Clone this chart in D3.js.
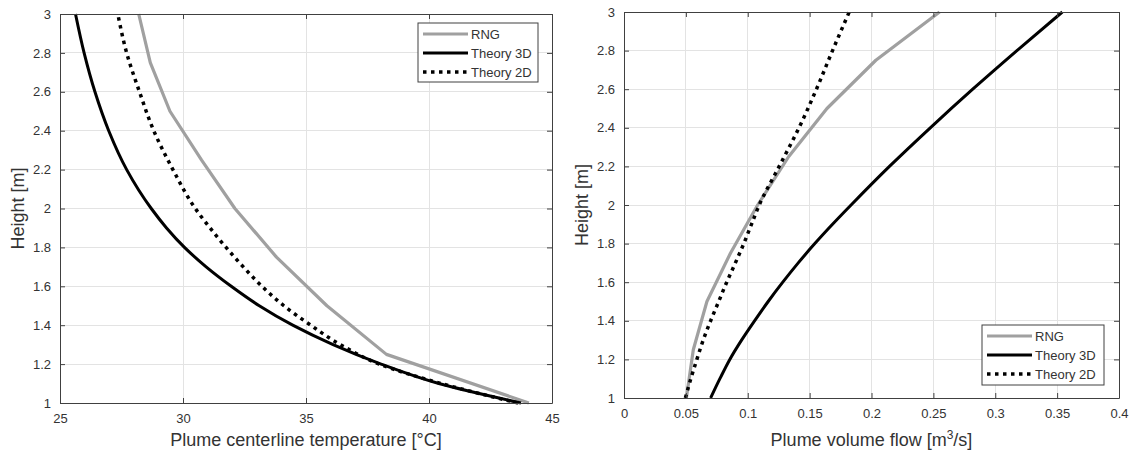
<!DOCTYPE html>
<html>
<head>
<meta charset="utf-8">
<script src="https://cdn.jsdelivr.net/npm/d3@7"></script>
<style>
  body { margin: 0; background: #ffffff; }
  svg { display: block; font-family: "Liberation Sans", Arial, Helvetica, sans-serif; }
</style>
</head>
<body>
<svg id="chart" width="1132" height="457"></svg>
<script>
// ---------- data ----------
const seriesNames = ["RNG", "Theory 3D", "Theory 2D"];

const rngHeights = [1, 1.25, 1.5, 1.75, 2, 2.25, 2.5, 2.75, 3];
const rngTemp    = [44.06, 38.27, 35.85, 33.8, 32.11, 30.75, 29.47, 28.67, 28.2];
const rngFlow    = [0.0504, 0.056, 0.067, 0.086, 0.108, 0.133, 0.164, 0.2035, 0.255];

const theoryHeights = [1.0, 1.1, 1.2, 1.3, 1.4, 1.5, 1.6, 1.7, 1.8, 1.9, 2.0, 2.2, 2.4, 2.6, 2.8, 3.0];
const temp3D = [43.74, 40.4, 38.05, 36.1, 34.46, 33.1, 31.96, 30.94, 30.06, 29.33, 28.71, 27.71, 26.98, 26.42, 25.98, 25.63];
const temp2D = [43.62, 40.5, 37.98, 36.4, 35.19, 34.1, 33.21, 32.45, 31.75, 31.1, 30.5, 29.59, 28.81, 28.23, 27.71, 27.35];
const flow3D = [0.070, 0.0775, 0.0855, 0.095, 0.1055, 0.1165, 0.1283, 0.1408, 0.1542, 0.1685, 0.1835, 0.2145, 0.2475, 0.2818, 0.3175, 0.3542];
const flow2D = [0.0496, 0.054, 0.0589, 0.064, 0.070, 0.0765, 0.083, 0.090, 0.0968, 0.103, 0.1093, 0.1254, 0.1414, 0.1555, 0.1685, 0.182];

const heightTicks = [1, 1.2, 1.4, 1.6, 1.8, 2, 2.2, 2.4, 2.6, 2.8, 3];
const tempTicks = [25, 30, 35, 40, 45];
const flowTicks = [0, 0.05, 0.1, 0.15, 0.2, 0.25, 0.3, 0.35, 0.4];

// ---------- styles ----------
const styles = {
  "RNG":       { color: "#a0a0a0", width: 3.2, dash: null, smooth: false },
  "Theory 3D": { color: "#000000", width: 3, dash: null, smooth: true },
  "Theory 2D": { color: "#000000", width: 3.5, dash: "3.5,4.5", smooth: true }
};

const svg = d3.select("#chart");
const axisColor = "#404040";
const gridColor = "#e3e3e3";
const textColor = "#333333";

function panel(opts) {
  const { left, right, top, bottom, xDomain, xTicks, xFmt, series, xLabel, legendPos } = opts;
  const x = d3.scaleLinear().domain(xDomain).range([left, right]);
  const y = d3.scaleLinear().domain([1, 3]).range([bottom, top]);
  const g = svg.append("g");

  // grid
  g.append("g").selectAll("line").data(xTicks).join("line")
    .attr("x1", d => x(d)).attr("x2", d => x(d))
    .attr("y1", top).attr("y2", bottom)
    .attr("stroke", gridColor).attr("stroke-width", 1).attr("shape-rendering", "crispEdges");
  g.append("g").selectAll("line").data(heightTicks).join("line")
    .attr("y1", d => y(d)).attr("y2", d => y(d))
    .attr("x1", left).attr("x2", right)
    .attr("stroke", gridColor).attr("stroke-width", 1).attr("shape-rendering", "crispEdges");

  // series
  const clipId = "clip" + Math.round(left);
  svg.append("clipPath").attr("id", clipId).append("rect")
    .attr("x", left).attr("y", top - 2).attr("width", right - left).attr("height", bottom - top + 4);
  series.forEach(s => {
    const st = styles[s.name];
    const pts = s.xs.map((v, i) => [v, s.ys[i]]);
    const lineGen = d3.line().x(d => x(d[0])).y(d => y(d[1]))
      .curve(st.smooth ? d3.curveMonotoneY : d3.curveLinear);
    g.append("path").datum(pts)
      .attr("d", lineGen)
      .attr("fill", "none")
      .attr("stroke", st.color)
      .attr("stroke-width", st.width)
      .attr("stroke-linejoin", "round")
      .attr("stroke-dasharray", st.dash)
      .attr("clip-path", `url(#${clipId})`);
  });

  // axes (ticks inward, box on)
  const fontSize = 13;
  const bottomAxis = d3.axisBottom(x).tickValues(xTicks).tickFormat(xFmt).tickSizeInner(-5).tickSizeOuter(0).tickPadding(11);
  const topAxis = d3.axisTop(x).tickValues(xTicks).tickFormat("").tickSizeInner(-5).tickSizeOuter(0);
  const leftAxis = d3.axisLeft(y).tickValues(heightTicks).tickFormat(d3.format("~g")).tickSizeInner(-5).tickSizeOuter(0).tickPadding(9);
  const rightAxis = d3.axisRight(y).tickValues(heightTicks).tickFormat("").tickSizeInner(-5).tickSizeOuter(0);

  [[bottomAxis, `translate(0,${bottom})`], [topAxis, `translate(0,${top})`],
   [leftAxis, `translate(${left},0)`], [rightAxis, `translate(${right},0)`]].forEach(([ax, tr]) => {
    const a = g.append("g").attr("transform", tr).call(ax);
    a.select(".domain").attr("stroke", axisColor).attr("stroke-width", 1);
    a.selectAll(".tick line").attr("stroke", axisColor);
    a.selectAll("text").attr("fill", textColor).style("font-size", fontSize + "px")
      .style("font-family", "'Liberation Sans', Arial, sans-serif");
  });

  // axis labels
  const xl = g.append("text")
    .attr("x", (left + right) / 2).attr("y", 446)
    .attr("text-anchor", "middle").attr("fill", textColor)
    .style("font-size", "18px");
  xLabel(xl);
  g.append("text")
    .attr("transform", `translate(${left - 36},${(top + bottom) / 2}) rotate(-90)`)
    .attr("text-anchor", "middle").attr("fill", textColor)
    .style("font-size", "18px")
    .text("Height [m]");

  // legend
  const lg = g.append("g");
  lg.append("rect")
    .attr("x", legendPos.x).attr("y", legendPos.y)
    .attr("width", legendPos.w).attr("height", legendPos.h)
    .attr("fill", "#ffffff").attr("stroke", axisColor).attr("stroke-width", 1);
  seriesNames.forEach((name, i) => {
    const st = styles[name];
    const cy = legendPos.y + 11 + i * 19;
    lg.append("line")
      .attr("x1", legendPos.x + 5).attr("x2", legendPos.x + 50)
      .attr("y1", cy).attr("y2", cy)
      .attr("stroke", st.color).attr("stroke-width", st.width)
      .attr("stroke-dasharray", st.dash);
    lg.append("text")
      .attr("x", legendPos.x + 53).attr("y", cy + 4.5)
      .attr("fill", textColor).style("font-size", "13px")
      .text(name);
  });
}

panel({
  left: 60, right: 552, top: 14, bottom: 403,
  xDomain: [25, 45], xTicks: tempTicks, xFmt: d3.format("d"),
  series: [
    { name: "RNG", xs: rngTemp, ys: rngHeights },
    { name: "Theory 3D", xs: temp3D, ys: theoryHeights },
    { name: "Theory 2D", xs: temp2D, ys: theoryHeights }
  ],
  xLabel: t => t.text("Plume centerline temperature [°C]"),
  legendPos: { x: 418, y: 23, w: 120, h: 59 }
});

panel({
  left: 624, right: 1119, top: 12, bottom: 398,
  xDomain: [0, 0.4], xTicks: flowTicks, xFmt: d3.format("~g"),
  series: [
    { name: "RNG", xs: rngFlow, ys: rngHeights },
    { name: "Theory 3D", xs: flow3D, ys: theoryHeights },
    { name: "Theory 2D", xs: flow2D, ys: theoryHeights }
  ],
  xLabel: t => {
    t.append("tspan").text("Plume volume flow [m");
    t.append("tspan").attr("dy", -7).style("font-size", "12px").text("3");
    t.append("tspan").attr("dy", 7).text("/s]");
  },
  legendPos: { x: 982, y: 325, w: 122, h: 60 }
});
</script>
</body>
</html>
